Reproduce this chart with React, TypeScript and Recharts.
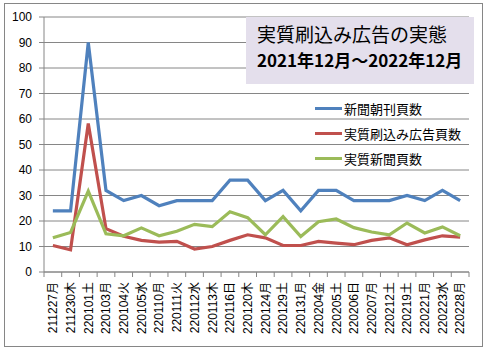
import React from 'react';
import { LineChart, Line, XAxis, YAxis, CartesianGrid } from 'recharts';

const categories = ['211227月', '211230木', '220101土', '220103月', '220104火', '220105水', '220110月', '220111火', '220112水', '220113木', '220116日', '220120木', '220124月', '220129土', '220131月', '220204金', '220205土', '220206日', '220207月', '220212土', '220219土', '220221月', '220223水', '220228月'];
const newsPages = [24, 24, 90, 32, 28, 30, 26, 28, 28, 28, 36, 36, 28, 32, 24, 32, 32, 28, 28, 28, 30, 28, 32, 28];
const adPages = [10.4, 8.7, 58.2, 17, 14, 12.4, 11.7, 12, 9, 10, 12.4, 14.6, 13.4, 10.4, 10.4, 12, 11.3, 10.7, 12.4, 13.4, 10.7, 12.6, 14.2, 13.7];
const realNewsPages = [13.4, 15.5, 31.7, 15, 14.2, 17.3, 14.2, 16, 18.7, 17.8, 23.6, 21.3, 14.6, 21.7, 13.9, 19.7, 20.8, 17.4, 15.7, 14.6, 19.2, 15.3, 17.7, 14.2];
const yTicks = [0, 10, 20, 30, 40, 50, 60, 70, 80, 90, 100];
const seriesNames = ['新聞朝刊頁数', '実質刷込み広告頁数', '実質新聞頁数'];
const titleLines = ['実質刷込み広告の実態', '2021年12月～2022年12月'];

const data = categories.map((c, i) => ({
  name: c,
  a: newsPages[i],
  b: adPages[i],
  c: realNewsPages[i],
}));

const W = 487;
const H = 351;
const PLOT_LEFT = 44;
const PLOT_RIGHT = 469;
const STEP = (PLOT_RIGHT - PLOT_LEFT) / categories.length;
const GRID = '#868686';
const COLORS = ['#4F81BD', '#C0504D', '#9BBB59'];
const FONT = '"Liberation Sans", "Noto Sans CJK JP", sans-serif';
const JFONT = '"Noto Sans CJK JP", "Liberation Sans", sans-serif';

const XTick = (props: any) => {
  const { x, y, payload, index } = props;
  const isLast = index === categories.length - 1;
  return (
    <g>
      <line x1={x - STEP / 2} x2={x - STEP / 2} y1={y} y2={y + 5} stroke={GRID} />
      {isLast && <line x1={x + STEP / 2} x2={x + STEP / 2} y1={y} y2={y + 5} stroke={GRID} />}
      <text
        transform={`translate(${x},${y}) rotate(-90)`}
        x={-10}
        y={0}
        dy="0.36em"
        textAnchor="end"
        fontSize={12}
        fontFamily={FONT}
        fill="#000"
      >
        {payload.value}
      </text>
    </g>
  );
};

export default function App() {
  return (
    <div style={{ position: 'absolute', left: 0, top: 0, width: W, height: H, background: '#fff' }}>
      <div
        style={{
          position: 'absolute',
          left: 4,
          top: 3,
          width: 479,
          height: 344,
          border: `1px solid ${GRID}`,
          boxSizing: 'border-box',
        }}
      />
      <div style={{ position: 'absolute', left: 0, top: 0 }}>
        <LineChart width={W} height={H} data={data} margin={{ top: 17, right: W - PLOT_RIGHT, bottom: 0, left: 0 }}>
          <CartesianGrid vertical={false} stroke={GRID} strokeWidth={1} />
          <XAxis
            dataKey="name"
            interval={0}
            height={79}
            padding={{ left: STEP / 2, right: STEP / 2 }}
            tick={<XTick />}
            tickLine={false}
            tickSize={0}
            tickMargin={0}
            axisLine={{ stroke: GRID }}
          />
          <YAxis
            domain={[0, 100]}
            ticks={yTicks}
            width={PLOT_LEFT}
            tickSize={5}
            tickMargin={7}
            tickLine={{ stroke: GRID }}
            axisLine={{ stroke: GRID }}
            tick={{ fontSize: 12, fill: '#000', fontFamily: FONT }}
          />
          <Line dataKey="a" name={seriesNames[0]} stroke={COLORS[0]} strokeWidth={3.2} dot={false} isAnimationActive={false} />
          <Line dataKey="b" name={seriesNames[1]} stroke={COLORS[1]} strokeWidth={3.2} dot={false} isAnimationActive={false} />
          <Line dataKey="c" name={seriesNames[2]} stroke={COLORS[2]} strokeWidth={3.2} dot={false} isAnimationActive={false} />
        </LineChart>
      </div>
      <div style={{ position: 'absolute', left: 315, top: 96, fontFamily: JFONT, fontSize: 13, color: '#000' }}>
        {seriesNames.map((n, i) => (
          <div key={n} style={{ display: 'flex', alignItems: 'center', height: 25 }}>
            <div style={{ width: 27, height: 3, background: COLORS[i], marginRight: 2 }} />
            <span style={{ whiteSpace: 'nowrap' }}>{n}</span>
          </div>
        ))}
      </div>
      <div
        style={{
          position: 'absolute',
          left: 246,
          top: 17,
          width: 228,
          height: 67,
          background: '#E4DFEC',
          fontFamily: JFONT,
          color: '#000',
          boxSizing: 'border-box',
          paddingLeft: 11,
          paddingTop: 4,
        }}
      >
        <div style={{ fontSize: 19, lineHeight: '26px', whiteSpace: 'nowrap' }}>{titleLines[0]}</div>
        <div style={{ fontSize: 17, lineHeight: '26px', fontWeight: 'bold', whiteSpace: 'nowrap' }}>{titleLines[1]}</div>
      </div>
    </div>
  );
}
